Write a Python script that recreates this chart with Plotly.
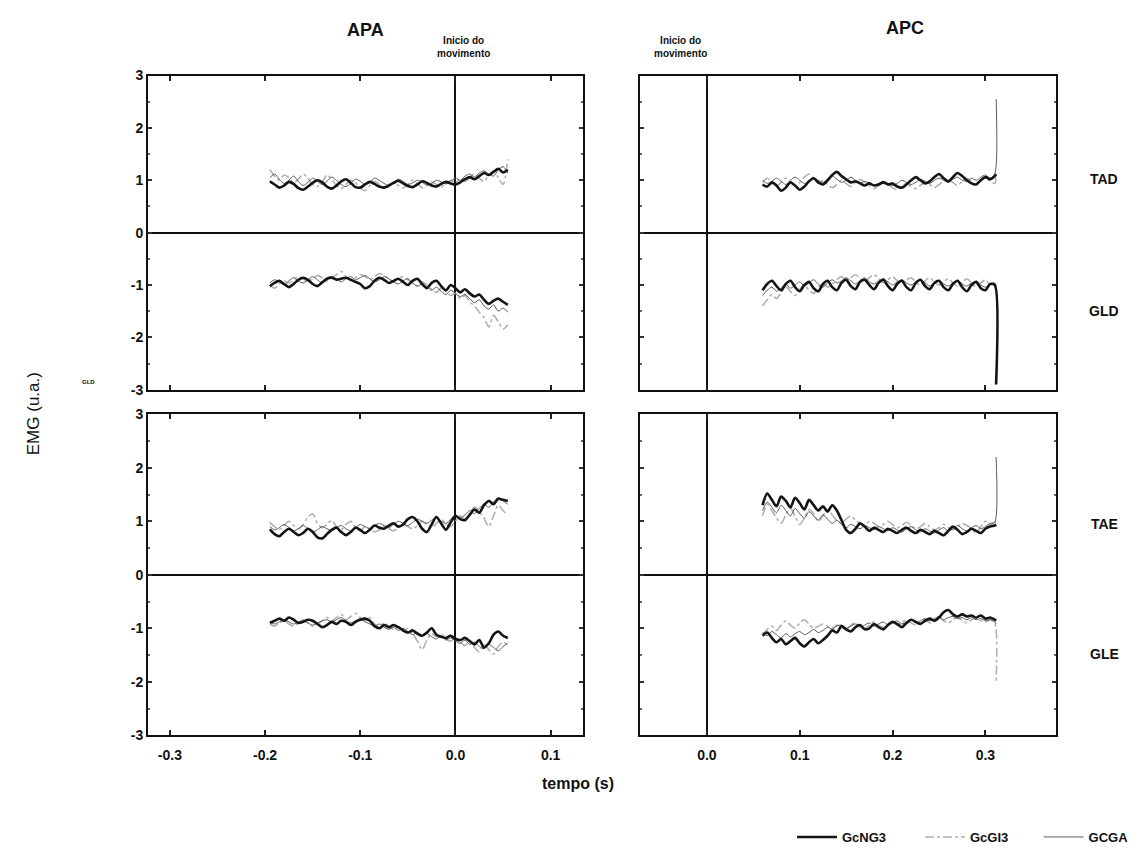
import plotly.graph_objects as go

# ---------------- data ----------------
t_apa = [round(-0.195 + 0.005 * i, 3) for i in range(51)]
t_apc = [round(0.06 + 0.005 * i, 3) for i in range(51)] + [0.3115]

groups = ["GcNG3", "GcGI3", "GCGA"]

# APA (left column)
apa_tad_ng = [0.98,0.92,0.86,0.90,0.97,0.93,0.85,0.82,0.88,0.95,1.00,0.96,0.88,0.84,0.90,0.98,1.02,0.95,0.87,0.86,0.92,0.97,0.93,0.88,0.86,0.90,0.95,0.99,0.94,0.89,0.87,0.92,0.98,0.95,0.90,0.88,0.93,0.97,0.94,0.92,0.96,1.02,1.06,1.02,1.08,1.14,1.10,1.16,1.22,1.15,1.20]
apa_tad_gi = [1.20,1.08,1.00,1.10,1.05,0.95,1.02,1.12,1.04,0.92,0.88,0.96,1.10,1.02,0.90,0.84,0.92,1.00,0.95,0.86,0.80,0.90,0.98,0.92,0.84,0.88,0.96,0.90,0.85,0.92,1.00,0.94,0.86,0.90,0.97,0.92,0.87,0.94,1.00,0.96,1.02,0.98,1.05,1.12,1.04,0.98,1.10,1.18,1.05,0.92,1.40]
apa_tad_ga = [1.05,1.12,1.02,0.94,1.00,1.08,0.98,0.90,0.96,1.04,0.98,0.92,0.98,1.06,1.00,0.92,0.88,0.94,1.02,0.98,0.92,0.96,1.04,1.00,0.94,0.90,0.96,1.02,0.98,0.92,0.95,1.00,0.96,0.91,0.94,1.00,0.97,0.93,0.98,1.04,1.00,1.08,1.12,1.06,1.14,1.18,1.12,1.08,1.20,1.26,1.14]

apa_gld_ng = [-1.02,-0.96,-0.92,-0.98,-1.04,-0.98,-0.90,-0.86,-0.90,-0.98,-1.02,-0.95,-0.88,-0.86,-0.90,-0.88,-0.86,-0.90,-0.94,-0.98,-1.06,-1.02,-0.92,-0.86,-0.90,-0.96,-0.92,-0.88,-0.94,-1.00,-0.92,-0.88,-0.98,-1.06,-0.96,-0.92,-1.02,-1.10,-1.00,-1.06,-1.14,-1.08,-1.16,-1.22,-1.18,-1.28,-1.36,-1.30,-1.26,-1.32,-1.38]
apa_gld_gi = [-1.00,-1.06,-0.98,-0.92,-0.96,-0.90,-0.84,-0.88,-0.94,-0.88,-0.82,-0.86,-0.92,-0.86,-0.80,-0.74,-0.84,-0.90,-0.86,-0.80,-0.84,-0.90,-0.84,-0.78,-0.82,-0.88,-0.94,-0.88,-0.84,-0.90,-0.96,-1.02,-0.94,-1.00,-1.08,-1.14,-1.06,-1.12,-1.20,-1.16,-1.26,-1.20,-1.32,-1.40,-1.52,-1.62,-1.80,-1.58,-1.70,-1.84,-1.76]
apa_gld_ga = [-0.96,-0.90,-0.94,-1.00,-0.92,-0.86,-0.92,-0.96,-0.90,-0.84,-0.90,-0.96,-0.90,-0.84,-0.88,-0.94,-0.88,-0.84,-0.90,-0.86,-0.82,-0.88,-0.94,-0.90,-0.84,-0.88,-0.94,-0.98,-0.92,-0.88,-0.96,-1.02,-0.98,-1.04,-1.10,-1.04,-1.12,-1.18,-1.10,-1.16,-1.22,-1.18,-1.26,-1.34,-1.28,-1.40,-1.46,-1.38,-1.50,-1.44,-1.52]

apa_tae_ng = [0.85,0.76,0.72,0.80,0.86,0.80,0.74,0.78,0.86,0.80,0.70,0.68,0.76,0.84,0.88,0.80,0.74,0.80,0.88,0.84,0.78,0.84,0.92,0.88,0.86,0.92,0.96,0.90,0.94,1.04,1.08,1.00,0.86,0.80,0.94,1.08,0.96,0.84,0.98,1.10,1.04,1.02,1.12,1.22,1.16,1.30,1.38,1.32,1.42,1.40,1.38]
apa_tae_gi = [0.98,0.90,0.84,0.92,1.00,0.92,0.86,0.94,1.08,1.14,0.96,0.88,0.94,1.02,0.90,0.84,0.94,1.00,0.88,0.82,0.90,0.86,0.80,0.84,0.90,0.86,0.82,0.88,0.94,0.90,0.86,0.92,1.00,0.94,0.88,0.96,1.04,0.96,0.90,1.00,1.10,1.04,1.16,1.26,1.18,1.06,0.90,1.10,1.30,1.20,1.12]
apa_tae_ga = [0.90,0.84,0.88,0.94,0.88,0.82,0.86,0.92,0.86,0.80,0.84,0.90,0.86,0.82,0.88,0.92,0.86,0.82,0.88,0.94,0.90,0.86,0.92,0.96,0.92,0.88,0.94,1.00,0.96,0.92,0.98,1.04,1.00,0.96,1.02,1.06,1.00,0.96,1.04,1.10,1.06,1.12,1.20,1.14,1.24,1.32,1.26,1.36,1.44,1.38,1.32]

apa_gle_ng = [-0.90,-0.86,-0.82,-0.86,-0.80,-0.84,-0.90,-0.88,-0.84,-0.86,-0.92,-0.98,-0.94,-0.88,-0.92,-0.86,-0.88,-0.94,-0.88,-0.84,-0.82,-0.86,-0.96,-1.00,-0.94,-0.98,-0.94,-0.98,-1.04,-1.08,-1.04,-1.10,-1.14,-1.08,-1.00,-1.12,-1.16,-1.18,-1.14,-1.20,-1.22,-1.18,-1.24,-1.30,-1.22,-1.36,-1.28,-1.12,-1.06,-1.14,-1.18]
apa_gle_gi = [-0.92,-0.96,-0.90,-0.86,-0.92,-0.96,-0.90,-0.84,-0.90,-0.96,-0.92,-0.86,-0.80,-0.86,-0.80,-0.74,-0.84,-0.78,-0.72,-0.80,-0.86,-0.80,-0.92,-0.98,-0.90,-0.96,-1.02,-0.98,-1.06,-1.00,-1.10,-1.24,-1.40,-1.22,-1.10,-1.16,-1.10,-1.20,-1.24,-1.18,-1.26,-1.32,-1.24,-1.36,-1.44,-1.30,-1.40,-1.48,-1.34,-1.26,-1.32]
apa_gle_ga = [-0.88,-0.92,-0.88,-0.84,-0.88,-0.92,-0.88,-0.86,-0.90,-0.94,-0.90,-0.86,-0.84,-0.88,-0.84,-0.80,-0.86,-0.90,-0.86,-0.82,-0.88,-0.92,-0.96,-0.92,-0.98,-1.02,-0.98,-1.04,-1.00,-1.06,-1.12,-1.08,-1.14,-1.10,-1.16,-1.20,-1.14,-1.22,-1.18,-1.24,-1.28,-1.22,-1.30,-1.26,-1.34,-1.38,-1.30,-1.36,-1.42,-1.34,-1.28]

# APC (right column)
apc_tad_ng = [0.92,0.88,0.96,0.90,0.80,0.86,0.96,0.90,0.82,0.88,0.98,1.04,0.96,0.92,1.00,1.10,1.16,1.08,1.02,0.96,0.98,0.94,0.90,0.94,0.90,0.92,0.96,0.92,0.94,0.88,0.86,0.92,1.00,1.06,1.00,0.94,0.98,1.06,1.12,1.04,0.98,1.06,1.14,1.08,1.00,0.94,0.92,1.00,1.06,1.02,1.08,1.12]
apc_tad_gi = [0.96,1.04,0.94,0.88,0.96,1.04,0.98,0.90,0.96,1.06,1.12,1.04,0.94,1.00,0.92,0.86,0.92,1.00,0.94,0.88,0.96,1.02,0.96,0.90,0.84,0.90,0.96,0.92,0.86,0.82,0.88,0.94,0.88,0.84,0.90,0.96,0.92,0.86,0.92,0.98,1.02,0.96,0.90,0.98,1.04,0.98,0.92,1.00,1.06,0.98,0.94,1.05]
apc_tad_ga = [1.00,0.94,0.98,1.04,0.98,0.92,1.00,1.06,1.00,0.94,0.98,1.04,1.00,0.96,1.02,1.08,1.02,0.96,1.00,1.06,1.00,0.94,0.98,0.94,0.90,0.94,0.98,0.94,0.90,0.94,1.00,0.96,0.92,0.96,1.02,0.98,0.94,1.00,1.04,1.00,0.96,1.02,1.06,1.00,0.98,1.04,1.00,1.06,1.10,1.04,1.12,2.55]

apc_gld_ng = [-1.10,-0.98,-0.92,-1.02,-1.10,-0.98,-0.92,-1.04,-1.12,-1.00,-0.94,-1.06,-1.12,-0.98,-0.92,-1.04,-1.10,-0.96,-0.90,-1.02,-1.08,-0.94,-0.90,-1.00,-1.08,-0.96,-0.90,-1.02,-1.10,-0.98,-0.92,-1.04,-1.10,-0.96,-0.90,-1.02,-1.08,-0.96,-0.92,-1.04,-1.10,-0.98,-0.92,-1.04,-1.12,-1.00,-0.94,-1.06,-1.10,-0.98,-1.00,-2.90]
apc_gld_gi = [-1.40,-1.28,-1.18,-1.26,-1.14,-1.04,-1.12,-1.20,-1.08,-1.00,-1.10,-1.16,-1.04,-0.96,-1.04,-0.98,-0.90,-0.84,-0.92,-0.86,-0.80,-0.88,-0.94,-0.86,-0.80,-0.88,-0.96,-0.90,-0.84,-0.92,-0.98,-0.90,-0.86,-0.94,-1.00,-0.92,-0.86,-0.94,-1.00,-0.94,-0.88,-0.96,-1.02,-0.94,-0.88,-0.96,-1.04,-0.96,-0.90,-1.00,-0.96,-1.02]
apc_gld_ga = [-1.20,-1.10,-1.04,-1.12,-1.06,-0.98,-1.06,-1.00,-0.94,-1.02,-0.96,-0.90,-0.98,-1.04,-0.96,-0.90,-0.96,-0.92,-0.86,-0.92,-0.98,-0.92,-0.86,-0.94,-0.98,-0.92,-0.88,-0.94,-1.00,-0.94,-0.90,-0.96,-1.00,-0.94,-0.90,-0.96,-1.02,-0.96,-0.92,-0.98,-1.02,-0.96,-0.92,-0.98,-1.02,-0.96,-0.94,-1.00,-1.04,-0.98,-1.00,-1.04]

apc_tae_ng = [1.30,1.52,1.40,1.28,1.46,1.38,1.26,1.44,1.34,1.22,1.40,1.30,1.20,1.28,1.18,1.30,1.20,1.02,0.84,0.78,0.86,0.96,0.90,0.82,0.88,0.84,0.80,0.86,0.82,0.78,0.84,0.88,0.82,0.78,0.84,0.80,0.76,0.82,0.78,0.74,0.82,0.90,0.84,0.76,0.80,0.86,0.82,0.78,0.86,0.90,0.92,0.94]
apc_tae_gi = [1.10,1.32,1.20,1.06,0.96,1.12,1.24,1.10,0.94,1.06,1.22,1.14,1.00,1.10,1.22,1.12,1.02,0.96,1.04,1.10,1.02,0.96,0.92,1.00,0.96,0.90,0.94,1.00,0.94,0.88,0.92,0.98,0.92,0.86,0.90,0.96,0.90,0.84,0.88,0.94,0.88,0.84,0.90,0.96,0.92,0.86,0.78,0.90,1.00,0.94,0.98,1.00]
apc_tae_ga = [1.20,1.36,1.26,1.16,1.30,1.20,1.10,1.24,1.14,1.06,1.18,1.10,1.02,1.12,1.04,0.96,1.02,0.94,0.88,0.94,0.90,0.86,0.92,0.88,0.84,0.90,0.86,0.82,0.88,0.84,0.80,0.86,0.90,0.84,0.80,0.86,0.82,0.78,0.84,0.88,0.82,0.86,0.92,0.86,0.82,0.88,0.92,0.86,0.90,0.96,0.98,2.20]

apc_gle_ng = [-1.14,-1.08,-1.18,-1.26,-1.20,-1.30,-1.24,-1.18,-1.28,-1.34,-1.26,-1.20,-1.28,-1.22,-1.14,-1.04,-1.08,-0.96,-1.02,-1.06,-0.98,-0.94,-1.02,-1.00,-0.92,-0.98,-1.02,-0.94,-0.88,-0.92,-0.98,-0.90,-0.84,-0.88,-0.92,-0.86,-0.82,-0.86,-0.80,-0.70,-0.66,-0.74,-0.78,-0.74,-0.78,-0.76,-0.80,-0.76,-0.82,-0.80,-0.84,-0.86]
apc_gle_gi = [-1.12,-1.02,-0.96,-1.04,-0.94,-0.86,-0.94,-1.00,-0.90,-0.84,-0.92,-1.00,-0.96,-0.92,-0.96,-1.00,-0.94,-0.98,-1.02,-0.94,-0.90,-0.96,-1.00,-0.94,-0.88,-0.94,-0.98,-0.92,-0.88,-0.94,-0.90,-0.84,-0.90,-0.94,-0.88,-0.84,-0.90,-0.86,-0.80,-0.86,-0.90,-0.84,-0.80,-0.86,-0.90,-0.84,-0.80,-0.86,-0.88,-0.84,-0.90,-2.00]
apc_gle_ga = [-1.08,-1.14,-1.06,-1.12,-1.18,-1.10,-1.16,-1.10,-1.06,-1.12,-1.08,-1.02,-1.08,-1.04,-0.98,-1.02,-0.96,-0.94,-1.00,-0.96,-0.92,-0.98,-0.94,-0.90,-0.96,-0.92,-0.88,-0.94,-0.90,-0.86,-0.92,-0.88,-0.84,-0.90,-0.86,-0.82,-0.86,-0.82,-0.78,-0.84,-0.80,-0.78,-0.82,-0.80,-0.84,-0.80,-0.84,-0.82,-0.86,-0.84,-0.88,-0.92]

y_ticks = [3, 2, 1, 0, -1, -2, -3]
y_ticktext = ["3", "2", "1", "0", "-1", "-2", "-3"]
apa_xticks = [-0.3, -0.2, -0.1, 0.0, 0.1]
apa_xticktext = ["-0.3", "-0.2", "-0.1", "0.0", "0.1"]
apc_xticks = [0.0, 0.1, 0.2, 0.3]
apc_xticktext = ["0.0", "0.1", "0.2", "0.3"]

muscle_labels = ["TAD", "GLD", "TAE", "GLE"]
phase_titles = ["APA", "APC"]
onset_label = "Inicio do<br>movimento"

# ---------------- figure ----------------
W, H = 1140, 852
FONT = "Arial"
styles = {
    "GcNG3": dict(color="#141414", width=2.6, dash="solid", shape="spline", smoothing=0.8),
    "GcGI3": dict(color="#b0b0b0", width=1.6, dash="dashdot", shape="spline", smoothing=0.8),
    "GCGA": dict(color="#5a5a5a", width=1.0, dash="solid", shape="spline", smoothing=0.8),
}
legend_names = {"GcNG3": "GcNG3" + "\u00a0" * 8, "GcGI3": "GcGI3" + "\u00a0" * 7, "GCGA": "GCGA"}

panels = [
    ("x", "y", t_apa, [apa_tad_ng, apa_tad_gi, apa_tad_ga], [apa_gld_ng, apa_gld_gi, apa_gld_ga]),
    ("x2", "y2", t_apc, [apc_tad_ng, apc_tad_gi, apc_tad_ga], [apc_gld_ng, apc_gld_gi, apc_gld_ga]),
    ("x3", "y3", t_apa, [apa_tae_ng, apa_tae_gi, apa_tae_ga], [apa_gle_ng, apa_gle_gi, apa_gle_ga]),
    ("x4", "y4", t_apc, [apc_tae_ng, apc_tae_gi, apc_tae_ga], [apc_gle_ng, apc_gle_gi, apc_gle_ga]),
]

fig = go.Figure()
first = True
for xa, ya, t, upper, lower in panels:
    for series_set in (upper, lower):
        for gi in [1, 2, 0]:
            g = groups[gi]
            fig.add_trace(go.Scatter(
                x=t, y=series_set[gi], mode="lines", name=legend_names[g],
                line=styles[g], xaxis=xa, yaxis=ya,
                legendgroup=g, showlegend=first, legendrank=gi + 1,
                hoverinfo="skip",
            ))
        first = False

left_dom = [148 / W, 583 / W]
right_dom = [640 / W, 1056 / W]
top_dom = [1 - 390 / H, 1 - 69 / H]
bot_dom = [1 - 743 / H, 1 - 415 / H]

tickfont = dict(family=FONT, size=14, color="#111", weight="bold")


def xaxis(dom, anchor, rng, vals, text, show):
    return dict(domain=dom, anchor=anchor, range=rng, tickvals=vals, ticktext=text,
                showticklabels=show, showline=True, linecolor="#111", linewidth=2,
                mirror="allticks", ticks="inside", ticklen=5, tickwidth=2, tickcolor="#222",
                showgrid=False, zeroline=True, zerolinecolor="#111", zerolinewidth=1.6,
                tickfont=tickfont, ticklabelstandoff=6)


def yaxis(dom, anchor, show):
    return dict(domain=dom, anchor=anchor, range=[-3, 3], tickvals=y_ticks, ticktext=y_ticktext,
                showticklabels=show, showline=True, linecolor="#111", linewidth=2,
                mirror="allticks", ticks="inside", ticklen=4, tickwidth=2, tickcolor="#333",
                minor=dict(ticks="inside", ticklen=2, tickwidth=1.5, tickcolor="#666", dtick=0.5),
                showgrid=False, zeroline=True, zerolinecolor="#111", zerolinewidth=1.6,
                tickfont=tickfont)


apa_range = [-0.323, 0.134]
apc_range = [-0.072, 0.376]

fig.update_layout(
    width=W, height=H,
    margin=dict(l=0, r=0, t=0, b=0),
    paper_bgcolor="white", plot_bgcolor="white",
    font=dict(family=FONT, color="#111"),
    xaxis=xaxis(left_dom, "y", apa_range, apa_xticks, apa_xticktext, False),
    yaxis=yaxis(top_dom, "x", True),
    xaxis2=xaxis(right_dom, "y2", apc_range, apc_xticks, apc_xticktext, False),
    yaxis2=yaxis(top_dom, "x2", False),
    xaxis3=xaxis(left_dom, "y3", apa_range, apa_xticks, apa_xticktext, True),
    yaxis3=yaxis(bot_dom, "x3", True),
    xaxis4=xaxis(right_dom, "y4", apc_range, apc_xticks, apc_xticktext, True),
    yaxis4=yaxis(bot_dom, "x4", False),
    legend=dict(orientation="h", x=792 / W, y=1 - 847 / H, xanchor="left", yanchor="middle",
                font=dict(family=FONT, size=13, color="#111", weight="bold"),
                bgcolor="rgba(0,0,0,0)", itemwidth=40, tracegroupgap=0),
    showlegend=True,
)


def ann(text, x, y, size, bold=True, angle=0):
    fig.add_annotation(text=f"<b>{text}</b>" if bold else text, x=x / W, y=1 - y / H,
                       xref="paper", yref="paper", showarrow=False, textangle=angle,
                       font=dict(family=FONT, size=size, color="#111"),
                       xanchor="center", yanchor="middle")


ann(phase_titles[0], 365, 22, 18)
ann(phase_titles[1], 905, 20, 18)
ann(onset_label, 463, 40, 10)
ann(onset_label, 680, 40, 10)
ann(muscle_labels[0], 1104, 175, 14)
ann(muscle_labels[1], 1104, 310, 14)
ann(muscle_labels[2], 1104, 527, 14)
ann(muscle_labels[3], 1104, 660, 14)
ann("GLD", 88, 382, 6)
ann("EMG (u.a.)", 33, 415, 17, bold=False, angle=-90)
ann("tempo (s)", 578, 792, 16)

fig.write_html("out.html")
